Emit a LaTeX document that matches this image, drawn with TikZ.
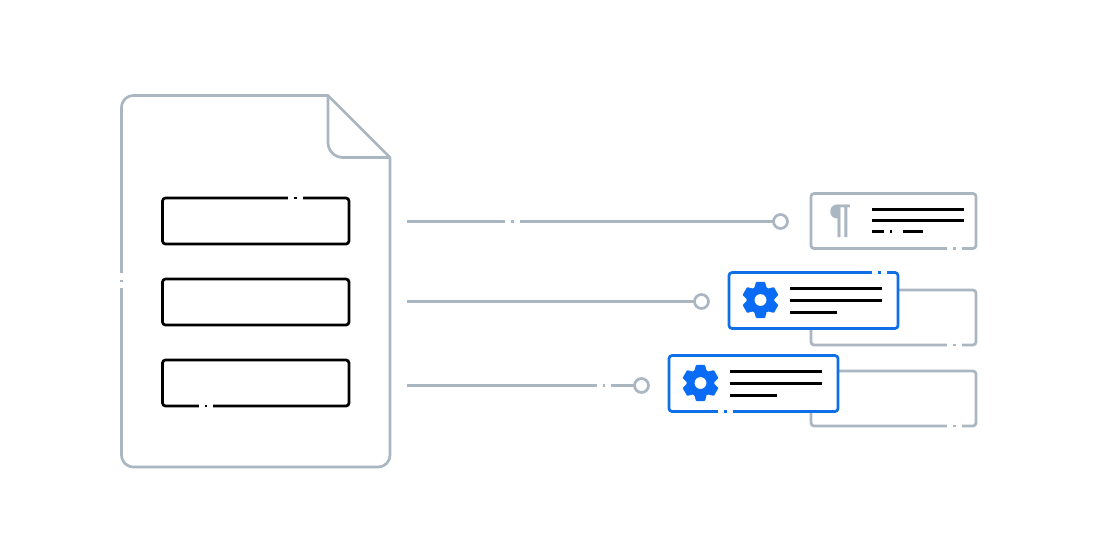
\documentclass[tikz,border=0pt]{standalone}
\usepackage{fontspec}
\setmainfont{Liberation Sans}
\usetikzlibrary{calc}
\definecolor{gr}{HTML}{AAB6C1}
\definecolor{bl}{HTML}{0F6FE6}
\definecolor{gearblue}{HTML}{0A6CF5}
\newcommand{\hgap}[4]{%
  \fill[white] (#1,#3-2.5) rectangle (#2,#3+2.5);
  \fill[#4] ({(#1+#2)/2-1.1},#3-1.3) rectangle ({(#1+#2)/2+1.1},#3+1.3);}
\newcommand{\gearicon}[2]{%
  \fill[gearblue,rounded corners=0.7pt]
    ($(#1,#2)+(64:13.8)$) \foreach \a in {90,150,210,270,330,390} {
      -- ($(#1,#2)+({\a-14}:18.6)$) -- ($(#1,#2)+({\a+14}:18.6)$) -- ($(#1,#2)+({\a+26}:13.8)$) -- ($(#1,#2)+({\a+34}:13.8)$)
    } -- cycle;
  \fill[white] (#1,#2) circle[radius=5.9pt];}
\tikzset{
  x=1pt,y=-1pt,
  grayline/.style={draw=gr,line width=2.7pt},
  graybox/.style={draw=gr,line width=2.7pt,fill=white,rectangle,rounded corners=3pt,inner sep=0pt,outer sep=0pt,minimum width=165pt,minimum height=55pt},
  blackbox/.style={draw=black,line width=2.7pt,rectangle,rounded corners=3pt,inner sep=0pt,outer sep=0pt,minimum width=186.5pt,minimum height=46pt},
  bluebox/.style={draw=bl,line width=2.7pt,fill=white,rectangle,rounded corners=3pt,inner sep=0pt,outer sep=0pt,minimum width=169pt,minimum height=56pt},
  port/.style={circle,draw=gr,line width=2.7pt,fill=white,inner sep=0pt,outer sep=0pt,minimum size=14pt},
  txtline/.style={draw=black,line width=2.5pt},
}
\begin{document}
\begin{tikzpicture}
\useasboundingbox (0,0) rectangle (1120,560);
% document
\draw[grayline,line join=round] (121.5,273) -- (121.5,108)
  .. controls (121.5,100.5) and (126.5,95.5) .. (134,95.5)
  -- (328,95.5) -- (390,157.5) -- (390,454.5)
  .. controls (390,462) and (385,467) .. (377.5,467)
  -- (134,467)
  .. controls (126.5,467) and (121.5,462) .. (121.5,454.5)
  -- (121.5,288);
\fill[gr] (120.2,279.5) rectangle (122.8,281.5);
\draw[grayline,rounded corners=15pt] (328,95.5) -- (328,157.5) -- (390,157.5);
% fields
\node[blackbox] (f1) at (255.75,221) {};
\node[blackbox] (f2) at (255.75,302) {};
\node[blackbox] (f3) at (255.75,383) {};
\hgap{288}{303}{198}{black}
\hgap{199}{213}{406}{black}
% back cards
\node[graybox] (g1) at (893.5,221) {};
\node[graybox] (g2) at (893.5,317.5) {};
\node[graybox] (g3) at (893.5,398.5) {};
\hgap{947}{962}{248.5}{gr}
\hgap{947}{962}{345}{gr}
\hgap{947}{962}{426}{gr}
% front cards
\node[bluebox] (b2) at (813.5,300.5) {};
\node[bluebox] (b3) at (753.5,383.5) {};
\hgap{872}{887}{272.5}{bl}
\hgap{718}{733}{411.5}{bl}
% ports and connectors
\node[port] (p1) at (780.5,221.5) {};
\node[port] (p2) at (701.5,301.5) {};
\node[port] (p3) at (641.5,385.5) {};
\coordinate (s1) at (407,221.5);
\coordinate (s2) at (407,301.5);
\coordinate (s3) at (407,385.5);
\draw[grayline] (s1) -- (p1);
\draw[grayline] (s2) -- (p2);
\draw[grayline] (s3) -- (p3);
\hgap{505}{520}{221.5}{gr}
\hgap{597}{611}{385.5}{gr}
% card content
\node[text=gr,font=\bfseries\fontsize{40}{40}\selectfont,inner sep=0pt] (para) at (841,221) {¶};
\draw[txtline] (872,209.6) -- (964,209.6);
\draw[txtline] (872,220.6) -- (964,220.6);
\draw[txtline] (872,231.6) -- (884,231.6);
\fill[black] (890,230.3) rectangle (892,232.9);
\draw[txtline] (903,231.6) -- (923,231.6);
\gearicon{760.5}{300}
\draw[txtline] (790,288.5) -- (882,288.5);
\draw[txtline] (790,300.5) -- (882,300.5);
\draw[txtline] (790,312.5) -- (837,312.5);
\gearicon{700.5}{383}
\draw[txtline] (730,371.5) -- (822,371.5);
\draw[txtline] (730,383.5) -- (822,383.5);
\draw[txtline] (730,395.5) -- (777,395.5);
\end{tikzpicture}
\end{document}
